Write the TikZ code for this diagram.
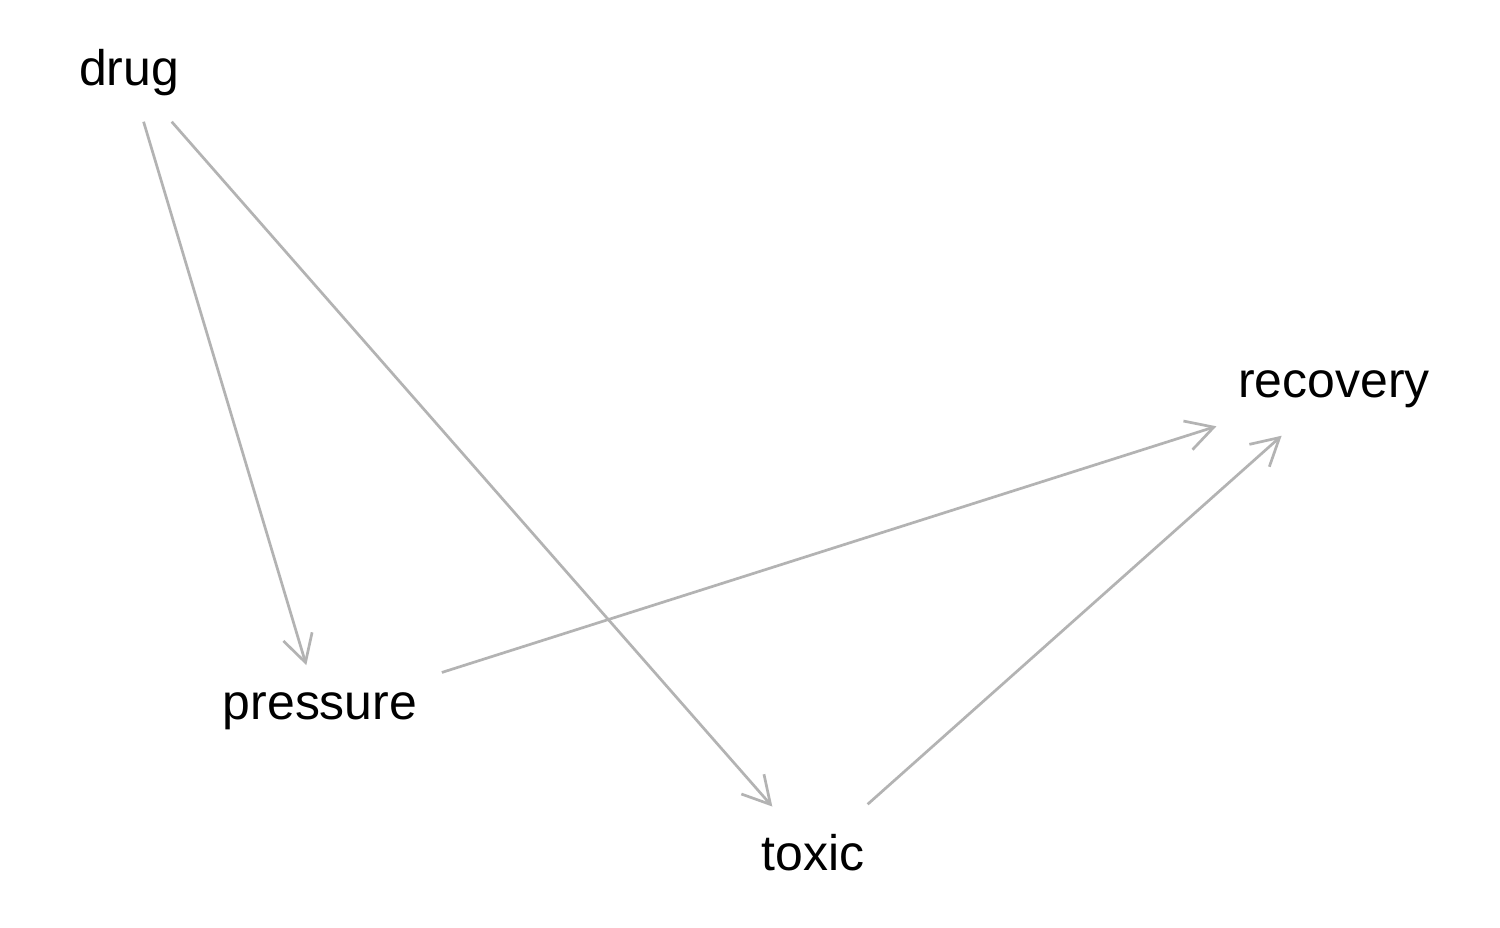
\documentclass[tikz,border=0pt]{standalone}
\usepackage{fontspec}
\setmainfont{Liberation Sans}
\usetikzlibrary{arrows.meta}
\definecolor{edgegray}{HTML}{B3B3B3}
\begin{document}
\begin{tikzpicture}[x=0.01cm,y=-0.01cm,
  vlabel/.style={font=\fontsize{14.2pt}{17pt}\selectfont, text=black, inner xsep=0.24cm, inner ysep=0pt, minimum height=0.96cm},
  edge/.style={draw=edgegray, line width=0.027cm, shorten >=-0.03cm, -{Straight Barb[length=0.27cm,width=0.3cm]}}]
\useasboundingbox (0,0) rectangle (1500,927);
\fill[white] (0,0) rectangle (1500,927);
\node[vlabel] (drug) at (129,73) {drug};
\node[vlabel] (pressure) at (320,711) {pressure};
\node[vlabel] (toxic) at (813,853) {toxic};
\node[vlabel] (recovery) at (1334,389) {recovery};
\draw[edge] (drug) -- (pressure);
\draw[edge] (drug) -- (toxic);
\draw[edge] (pressure) -- (recovery);
\draw[edge] (toxic) -- (recovery);
\end{tikzpicture}
\end{document}
